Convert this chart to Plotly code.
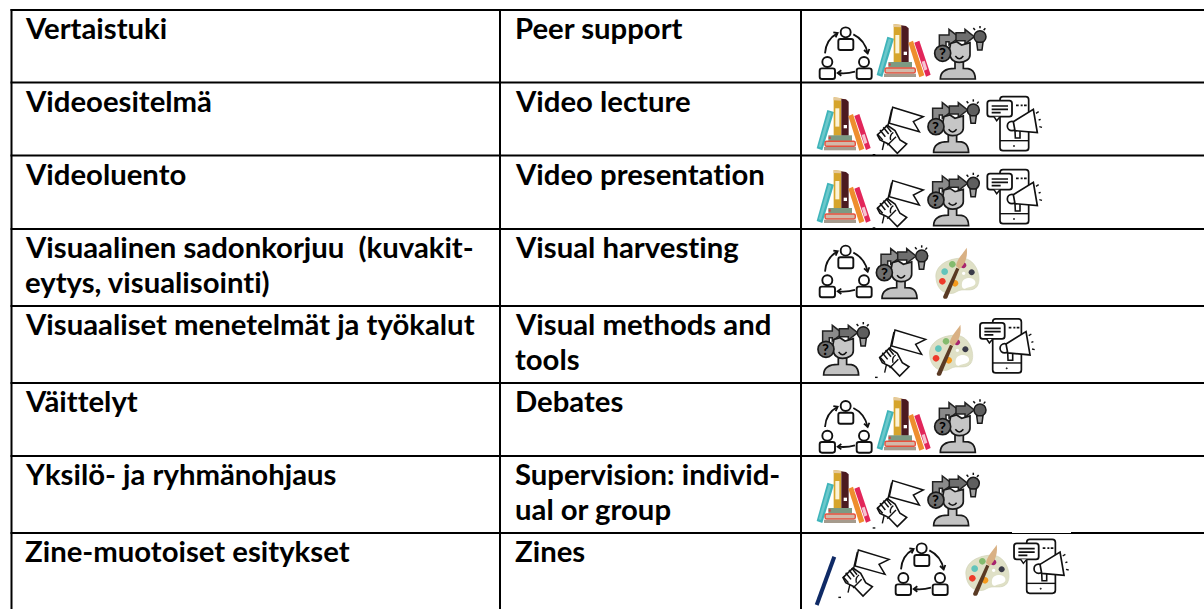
import re
import plotly.graph_objects as go

# ---------- table content ----------
fi_labels = [["Vertaistuki"], ["Videoesitelmä"], ["Videoluento"],
             ["Visuaalinen sadonkorjuu  (kuvakit-", "eytys, visualisointi)"],
             ["Visuaaliset menetelmät ja työkalut"], ["Väittelyt"],
             ["Yksilö- ja ryhmänohjaus"], ["Zine-muotoiset esitykset"]]
en_labels = [["Peer support"], ["Video lecture"], ["Video presentation"],
             ["Visual harvesting"], ["Visual methods and", "tools"], ["Debates"],
             ["Supervision: individ-", "ual or group"], ["Zines"]]

# ---------- table geometry ----------
W, H = 1204, 609
row_lines = [10, 82.5, 155.5, 229, 306, 383, 456, 533]
col_lines = [11.5, 500, 801]
col_text_x = [26, 516]
TEXT_Y_OFF = -1
LINE_STEP = 35
FONT_SIZE = 29.3

# ---------- icon helpers (local units are 1/3 px) ----------
def circ(cx, cy, r):
    k = 0.5523 * r
    return (f"M{cx-r},{cy} C{cx-r},{cy-k} {cx-k},{cy-r} {cx},{cy-r} "
            f"C{cx+k},{cy-r} {cx+r},{cy-k} {cx+r},{cy} "
            f"C{cx+r},{cy+k} {cx+k},{cy+r} {cx},{cy+r} "
            f"C{cx-k},{cy+r} {cx-r},{cy+k} {cx-r},{cy} Z")

def rrect(x0, y0, x1, y1, r):
    return (f"M{x0+r},{y0} L{x1-r},{y0} Q{x1},{y0} {x1},{y0+r} L{x1},{y1-r} Q{x1},{y1} {x1-r},{y1} "
            f"L{x0+r},{y1} Q{x0},{y1} {x0},{y1-r} L{x0},{y0+r} Q{x0},{y0} {x0+r},{y0} Z")

K = "#111111"
CYCLE = [
    (circ(137, 97, 15), "white", K, 1.9), (rrect(115, 117, 160, 150, 6), "white", K, 1.9),
    (circ(82, 186, 15), "white", K, 1.9), (rrect(59, 205, 105, 237, 7), "white", K, 1.9),
    (circ(192, 186, 15), "white", K, 1.9), (rrect(170, 205, 215, 237, 7), "white", K, 1.9),
    ("M75,160 Q78,118 112,100", None, K, 1.8), ("M100,97 L113,99 L107,112", None, K, 1.8),
    ("M160,103 Q195,120 203,160", None, K, 1.8), ("M192,150 L203,160 L208,147", None, K, 1.8),
    ("M165,215 Q140,222 114,219", None, K, 1.8), ("M124,211 L113,219 L124,227", None, K, 1.8),
]
BOOKS = [
    ("M262,110 L282,116 L247,231 L230,225 Z", "#3fb4ba", None, 0),
    ("M266,116 L274,119 L243,222 L236,220 Z", "#6cc8cb", None, 0),
    ("M281,72 L304,75 L304,187 L281,187 Z", "#d6a52c", None, 0),
    ("M281,72 L304,75 L304,82 L281,81 Z", "#e5c99a", None, 0),
    ("M286,105 L298,105 L298,160 L286,160 Z", "#fbf3d8", None, 0),
    ("M304,76 L318,78 L326,85 L326,187 L304,187 Z", "#4c1a20", None, 0),
    ("M311,155 L321,155 L321,165 L311,165 Z", "white", None, 0),
    ("M325,128 L339,122 L373,226 L358,232 Z", "#ee8e2e", None, 0),
    ("M343,128 L358,122 L392,224 L378,230 Z", "#e2265a", None, 0),
    ("M365,185 L374,182 L382,208 L373,212 Z", "#f6c4d0", None, 0),
    ("M265,186 L336,186 L336,203 L265,203 Z", "#7c9a83", None, 0),
    (rrect(255, 204, 346, 219, 5), "#d3b9a9", "#e8503c", 1.4),
    ("M252,221 L348,221 L348,231 L252,231 Z", "#a59b8d", None, 0),
    ("M266,190 L272,190 L272,197 L266,197 Z", "#d93a3a", None, 0),
]
HEAD = [
    ("M418,155 L418,105 L447,105 L447,88 L478,112 L447,135 L447,125 L438,125 L438,150 Z", "#8a8a8a", "#222222", 1.5),
    ("M468,98 L495,98 L495,88 L523,110 L495,132 L495,122 L468,122 Z", "#6e6e6e", "#222222", 1.5),
    (circ(540, 110, 18), "#5e5e5e", "#1a1a1a", 1.5),
    ("M530,127 L549,127 L546,150 L533,150 Z", "#a0a0a0", "#1a1a1a", 1.5),
    ("M520,84 L525,90", None, K, 1.5), ("M540,78 L540,85", None, K, 1.5), ("M556,85 L551,91", None, K, 1.5),
    ("M421,237 C421,205 452,205 465,205 L465,185 L490,185 L490,205 C505,205 525,205 526,237 Z", "#c2c2c2", "#1a1a1a", 1.7),
    ("M448,150 L452,130 L470,125 L485,135 L510,128 L510,165 C510,178 495,187 478,187 C460,187 448,175 448,150 Z", "#c6c6c6", "#1a1a1a", 1.7),
    ("M466,168 Q478,184 490,168", None, K, 1.5),
    (circ(428, 160, 24), "#6e6e6e", "#1a1a1a", 1.7),
]
FLAG = [
    ("M278,322 L370,350 L340,365 L358,395 L268,370 Z", "white", K, 1.5),
    ("M275,328 L247,450", None, K, 1.4),
    ("M232,405 L262,376 L285,392 L300,420 L320,432 L292,460 L265,432 L240,420 Z", "white", K, 1.6),
    ("M240,390 L256,410 M232,402 L248,420 M250,382 L266,402 M258,376 L274,396", None, K, 1.5),
    ("M272,420 Q268,405 280,397", None, K, 1.4),
    ("M288,410 L262,436", None, K, 1.4),
    ("M218,464 L226,464", None, K, 1.4),
]
PHONE = [
    (rrect(600, 290, 686, 452, 9), "white", K, 1.7),
    ("M600,422 L686,422", None, K, 1.4),
    (circ(642, 438, 2), K, K, 0.6),
    ("M648,316 L656,316 M662,316 L668,316 M672,316 L680,316", None, K, 1.8),
    (rrect(562, 302, 636, 350, 8), "white", K, 1.8),
    ("M582,350 L590,362 L600,350", "white", K, 1.5),
    ("M575,318 L624,318 M575,328 L624,328 M575,338 L602,338", None, K, 1.7),
    (circ(636, 378, 14), "white", K, 1.7),
    ("M645,392 L660,388 L660,414 L646,414 Z", "white", K, 1.6),
    ("M640,365 L700,328 L712,398 L645,392 Z", "white", K, 1.7),
    ("M708,340 L716,335 M716,360 L722,358 M718,380 L726,382", None, K, 1.4),
]
PALETTE = [
    ("M408,145 C402,105 450,82 490,85 C530,88 546,145 532,168 C518,190 488,172 470,185 C450,198 412,190 408,145 Z",
     "#dfe0c6", "#cfd0b4", 0.6),
    (circ(427, 154, 10), "#ee3a2a", None, 0),
    (circ(434, 125, 10), "#62c4bb", None, 0),
    (circ(457, 103, 10), "#84bb6e", None, 0),
    (circ(490, 106, 9), "#a8246e", None, 0),
    (circ(515, 127, 9), "#3a3a48", None, 0),
    (circ(465, 160, 10), "#f59a1e", None, 0),
    (circ(491, 130, 5), "white", None, 0),
    ("M486,160 C488,142 520,138 526,155 C530,170 505,170 495,176 C488,178 484,170 486,160 Z", "white", None, 0),
    ("M429,200 L469,113 L478,117 L442,204 C438,208 430,208 429,200 Z", "#5a3a24", None, 0),
    ("M468,108 C470,88 490,70 500,53 C503,72 500,100 478,117 Z", "#d9b184", None, 0),
]
ICONS = {"cycle": CYCLE, "books": BOOKS, "head": HEAD, "flag": FLAG, "phone": PHONE, "palette": PALETTE}

# icon placement: frame origins, row by row
placements = [
    ("cycle", 800, 0), ("books", 800, 0), ("head", 800, 0),
    ("books", 740, 73.3), ("flag", 800, 0), ("head", 793.3, 73.3), ("phone", 800, 0),
    ("books", 740, 146), ("flag", 800, 73.3), ("head", 793.3, 146.7), ("phone", 800, 73),
    ("cycle", 800, 218.3), ("head", 741.7, 219.3), ("palette", 800, 230),
    ("head", 683.3, 296), ("flag", 802.3, 222.7), ("palette", 793.7, 307), ("phone", 792.7, 222.3),
    ("cycle", 800, 373.7), ("books", 800, 373.3), ("head", 800, 373.3),
    ("books", 740, 446), ("flag", 800, 373.3), ("head", 793.3, 446.7),
    ("flag", 765.7, 442.7), ("cycle", 876, 516), ("palette", 830, 527), ("phone", 826.7, 442.7),
]

num = re.compile(r"-?\d+\.?\d*(?:e-?\d+)?")
def move(path, ox, oy):
    i = [0]
    def rep(m):
        v = float(m.group())
        o = ox if i[0] % 2 == 0 else oy
        i[0] += 1
        return f"{o + v / 3:.2f}"
    return num.sub(rep, path)

shapes, annotations = [], []

# icons
for name, ox, oy in placements:
    for path, fill, line, width in ICONS[name]:
        s = dict(type="path", xref="x", yref="y", path=move(path, ox, oy),
                 line=dict(color=line or "rgba(0,0,0,0)", width=width))
        if fill:
            s["fillcolor"] = fill
        shapes.append(s)
    if name == "head":
        annotations.append(dict(x=ox + 428 / 3, y=oy + 160 / 3, text="<b>?</b>", showarrow=False,
                                xanchor="center", yanchor="middle",
                                font=dict(family="Lato", size=15, color="#000000")))

# navy stroke in last row
shapes.append(dict(type="line", xref="x", yref="y", x0=834.3, y0=556.7, x1=816.7, y1=605,
                   line=dict(color="#0f2a66", width=4)))

# table rules
for y in row_lines:
    shapes.append(dict(type="line", xref="x", yref="y", x0=col_lines[0] - 1, x1=W, y0=y, y1=y,
                       line=dict(color="black", width=2)))
for x in col_lines:
    shapes.append(dict(type="line", xref="x", yref="y", x0=x, x1=x, y0=row_lines[0] - 1, y1=H,
                       line=dict(color="black", width=2)))
# pasted picture's white edge over the last rule
shapes.append(dict(type="rect", xref="x", yref="y", x0=1012, x1=1071, y0=530, y1=533,
                   fillcolor="white", line=dict(width=0)))

# text
for labels, tx in zip((fi_labels, en_labels), col_text_x):
    for lines, y in zip(labels, row_lines):
        for n, line in enumerate(lines):
            annotations.append(dict(x=tx, y=y + TEXT_Y_OFF + n * LINE_STEP, text=line, showarrow=False,
                                    align="left", xanchor="left", yanchor="top", xshift=-2, borderpad=0,
                                    font=dict(family="Lato", size=FONT_SIZE, color="#000000", weight="bold")))

fig = go.Figure()
fig.update_layout(
    width=W, height=H, margin=dict(l=0, r=0, t=0, b=0, pad=0),
    paper_bgcolor="white", plot_bgcolor="white", showlegend=False,
    xaxis=dict(range=[0, W], visible=False, fixedrange=True),
    yaxis=dict(range=[H, 0], visible=False, fixedrange=True),
    shapes=shapes, annotations=annotations,
)
post = ("document.body.style.margin='0';document.body.style.overflow='hidden';"
        "var s=document.createElement('style');"
        "s.textContent='text{font-variant-ligatures:none;font-feature-settings:\"liga\" 0,\"clig\" 0;}';"
        "document.head.appendChild(s);")
fig.write_html("out.html", config={"displayModeBar": False}, post_script=post)
